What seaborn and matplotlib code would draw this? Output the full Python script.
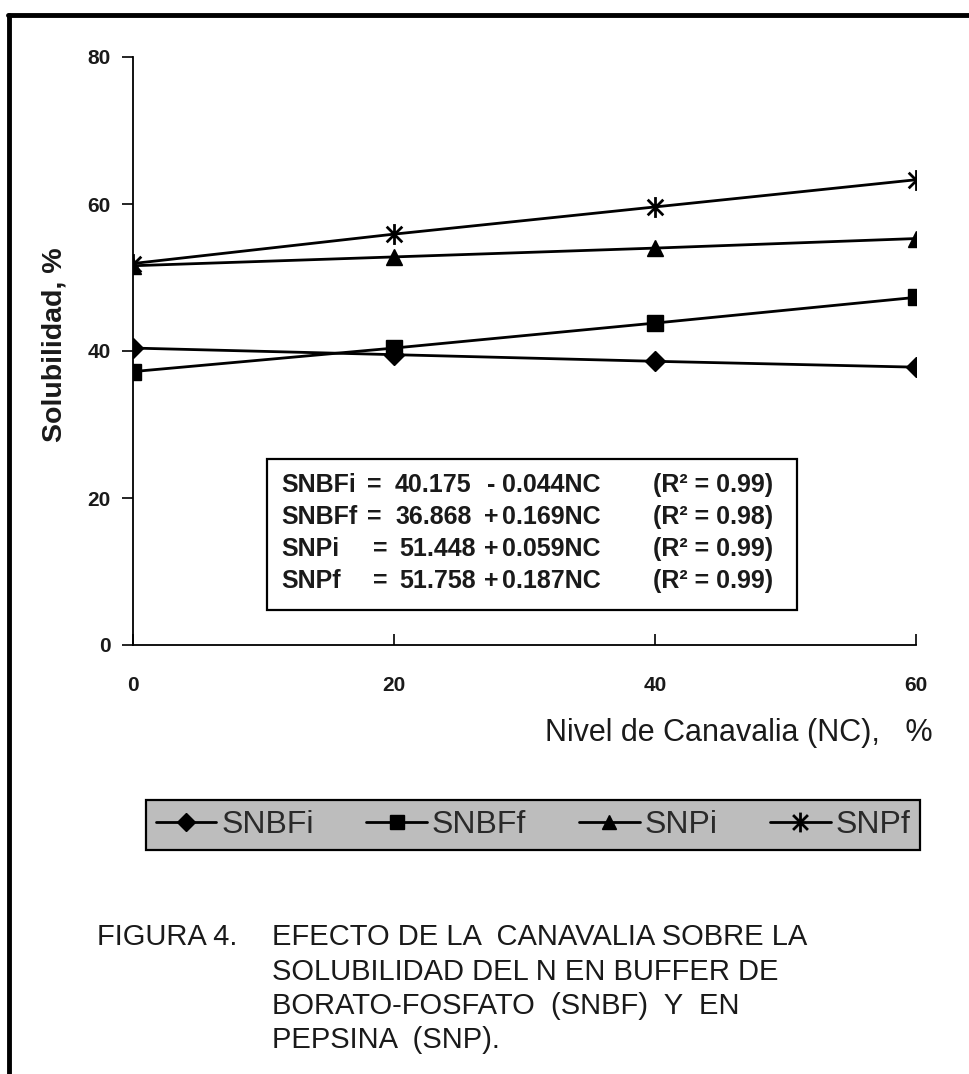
import matplotlib
matplotlib.use("Agg")
import matplotlib.pyplot as plt
import seaborn as sns
import pandas as pd
from matplotlib.lines import Line2D
from matplotlib.path import Path

# ---- data ----
nc_levels = [0, 20, 40, 60]
snbfi = [40.4, 39.5, 38.6, 37.8]
snbff = [37.2, 40.4, 43.8, 47.3]
snpi = [51.6, 52.8, 54.0, 55.3]
snpf = [51.9, 55.9, 59.6, 63.3]
series_names = ["SNBFi", "SNBFf", "SNPi", "SNPf"]
y_ticks = [0, 20, 40, 60, 80]
x_ticks = [0, 20, 40, 60]
equations = [
    ("SNBFi", "=", "40.175", "-", "0.044NC", "(R\u00b2 = 0.99)"),
    ("SNBFf", "=", "36.868", "+", "0.169NC", "(R\u00b2 = 0.98)"),
    ("SNPi", "=", "51.448", "+", "0.059NC", "(R\u00b2 = 0.99)"),
    ("SNPf", "=", "51.758", "+", "0.187NC", "(R\u00b2 = 0.99)"),
]
caption_head = "FIGURA 4."
caption_lines = [
    "EFECTO DE LA  CANAVALIA SOBRE LA",
    "SOLUBILIDAD DEL N EN BUFFER DE",
    "BORATO-FOSFATO  (SNBF)  Y  EN",
    "PEPSINA  (SNP).",
]

sns.set_theme(style="white")
plt.rcParams["font.family"] = ["Liberation Sans", "DejaVu Sans"]

W, H = 969, 1074
fig = plt.figure(figsize=(W / 100, H / 100), dpi=100)

def fx(px):
    return px / W

def fy(py):
    return 1 - py / H

ax = fig.add_axes([fx(133), fy(645), fx(916) - fx(133), fy(57) - fy(645)])

df = pd.DataFrame({
    "NC": nc_levels * 4,
    "Sol": snbfi + snbff + snpi + snpf,
    "Serie": [n for n in series_names for _ in nc_levels],
})

star = Path([(0, -1), (0, 1), (-0.75, -0.75), (0.75, 0.75), (-0.75, 0.75), (0.75, -0.75)],
            [Path.MOVETO, Path.LINETO, Path.MOVETO, Path.LINETO, Path.MOVETO, Path.LINETO])
markers = {"SNBFi": "D", "SNBFf": "s", "SNPi": "^", "SNPf": star}
msizes = {"SNBFi": 10, "SNBFf": 11, "SNPi": 11, "SNPf": 15}


def mstyle(name, scale=1.0):
    if name == "SNPf":
        return dict(marker=markers[name], markersize=msizes[name] * scale,
                    markeredgecolor="black", markerfacecolor="none", markeredgewidth=2.0)
    return dict(marker=markers[name], markersize=msizes[name] * scale,
                markeredgecolor="black", markerfacecolor="black", markeredgewidth=1.0)


for name in series_names:
    sub = df[df["Serie"] == name]
    sns.lineplot(data=sub, x="NC", y="Sol", ax=ax, color="black", linewidth=2.0,
                 legend=False, zorder=3, **mstyle(name))

ax.set_xlim(0, 60)
ax.set_ylim(0, 80)
ax.set_xticks(x_ticks)
ax.set_yticks(y_ticks)
ax.set_xlabel("")
ax.set_ylabel("")
for s in ["top", "right"]:
    ax.spines[s].set_visible(False)
for s in ["left", "bottom"]:
    ax.spines[s].set_color("black")
    ax.spines[s].set_linewidth(1.3)
ax.tick_params(axis="y", direction="out", length=8, width=1.2, colors="black",
               labelsize=15, pad=8, left=True)
ax.tick_params(axis="x", direction="in", length=8, width=1.2, colors="black",
               labelsize=15, pad=22, bottom=True)
for lab in ax.get_xticklabels() + ax.get_yticklabels():
    lab.set_fontweight("bold")
    lab.set_color("#1a1a1a")
ax.patch.set_alpha(0)

# y label
fig.text(fx(55), fy(345), "Solubilidad, %", rotation=90, ha="center", va="center",
         fontsize=20.5, fontweight="bold", color="#1a1a1a")
# x label
fig.text(fx(933), fy(733), "Nivel de Canavalia (NC),   %", ha="right", va="center",
         fontsize=22, color="#1a1a1a")

# equation box
box = plt.Rectangle((fx(267), fy(610)), fx(797) - fx(267), fy(459) - fy(610),
                    transform=fig.transFigure, fill=True, facecolor="white",
                    edgecolor="black", linewidth=1.6, zorder=5)
fig.add_artist(box)
col_x = [281, 367, 395, 491, 502, 653]
col_ha = ["left", "left", "left", "center", "left", "left"]
row_y = [485, 517, 549, 581]
for r, eq in enumerate(equations):
    for c, part in enumerate(eq):
        xx = col_x[c]
        if r >= 2 and c == 1:
            xx = col_x[c] + 6
        if r >= 2 and c == 2:
            xx = col_x[c] + 4
        fig.text(fx(xx), fy(row_y[r]), part, ha=col_ha[c], va="center",
                 fontsize=18, fontweight="bold", color="#1a1a1a", zorder=6)

# legend
handles = [Line2D([], [], color="black", lw=2.0, **mstyle(n, 0.95)) for n in series_names]
leg = fig.legend(handles, series_names, loc="center",
                 bbox_to_anchor=(fx(533), fy(825)), ncol=4, frameon=True,
                 fontsize=23, handlelength=1.9, handletextpad=0.15,
                 columnspacing=1.65, borderpad=0.3, fancybox=False)
frame = leg.get_frame()
frame.set_facecolor("#bdbdbd")
frame.set_edgecolor("black")
frame.set_linewidth(1.6)
frame.set_alpha(1)
for t in leg.get_texts():
    t.set_color("#2a2a2a")

# caption
fig.text(fx(97), fy(937), caption_head, ha="left", va="center", fontsize=21,
         color="#1a1a1a")
for i, line in enumerate(caption_lines):
    fig.text(fx(272), fy(937 + 34.5 * i), line, ha="left", va="center", fontsize=21,
             color="#1a1a1a")

# scanned frame borders (top and left)
fig.add_artist(Line2D([fx(8), fx(969)], [fy(15), fy(15)], transform=fig.transFigure,
                      color="black", lw=3.5))
fig.add_artist(Line2D([fx(9), fx(9)], [fy(15), fy(1074)], transform=fig.transFigure,
                      color="black", lw=3.5))

fig.savefig("out.png", dpi=100, facecolor="white")
